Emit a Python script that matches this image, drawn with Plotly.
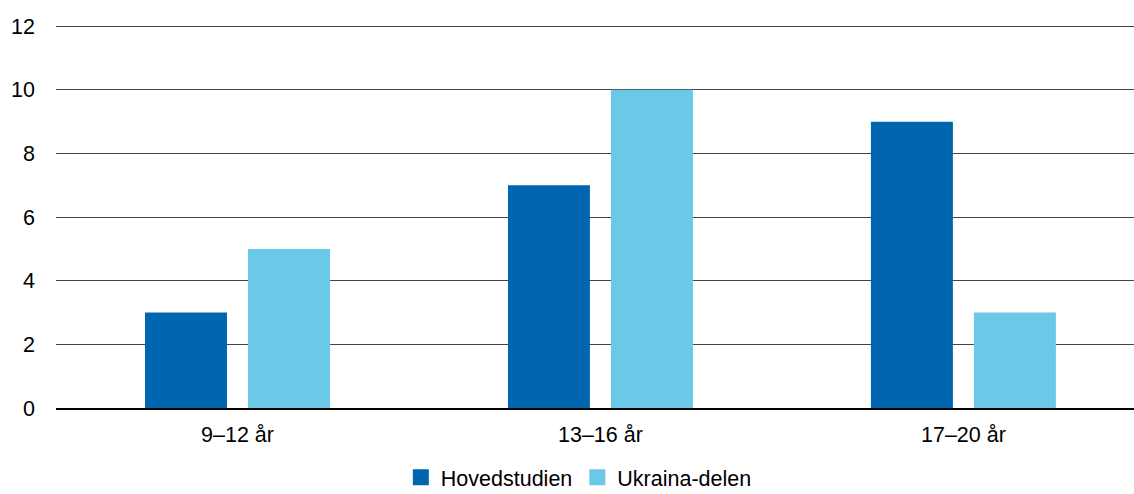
import plotly.graph_objects as go

categories = ["9–12 år", "13–16 år", "17–20 år"]
series_names = ["Hovedstudien", "Ukraina-delen"]
hovedstudien = [3, 7, 9]
ukraina = [5, 10, 3]
colors = ["#0066b0", "#6bc8e7"]
y_ticks = [0, 2, 4, 6, 8, 10, 12]

fig = go.Figure()
for name, vals, col in zip(series_names, [hovedstudien, ukraina], colors):
    fig.add_trace(go.Bar(x=categories, y=vals, name=name, marker_color=col,
                         marker_line_width=0, showlegend=False))
for name, col in zip(series_names, colors):
    fig.add_trace(go.Scatter(x=[None], y=[None], mode="markers", name=name,
                             marker=dict(symbol="square", size=18, color=col)))

font = dict(family="Liberation Sans, Arial, sans-serif", size=21.5, color="#000")
fig.update_layout(
    width=1134, height=494,
    margin=dict(l=56, r=0, t=23, b=86, autoexpand=False),
    paper_bgcolor="white", plot_bgcolor="white",
    barmode="group", bargap=0.4325, bargroupgap=0.204,
    font=font,
    showlegend=True,
    legend=dict(orientation="h", x=0.485, xanchor="center", y=-0.127, yanchor="top",
                font=font, itemwidth=30, tracegroupgap=0),
    xaxis=dict(range=[-0.5, 2.47], showgrid=False, showline=True, linecolor="#000",
               linewidth=1.5, ticks="", tickfont=font, fixedrange=True,
               ticklabelstandoff=6),
    yaxis=dict(range=[0, 12.1], tickvals=y_ticks, showgrid=True, gridcolor="#444",
               gridwidth=1, zeroline=False, showline=False, ticks="", ticklabelstandoff=20,
               tickfont=font, fixedrange=True),
)
fig.write_html("out.html")
